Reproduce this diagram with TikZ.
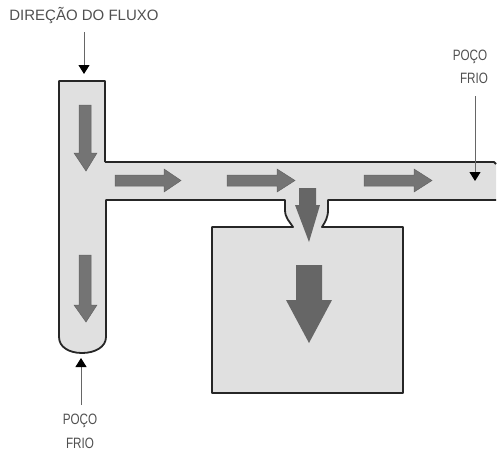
\documentclass[tikz,border=0pt]{standalone}
\usepackage{fontspec}
\setmainfont{Liberation Sans}
\usetikzlibrary{arrows.meta}
\definecolor{fluid}{HTML}{E0E0E0}
\definecolor{flow}{HTML}{747474}
\definecolor{flowdark}{HTML}{666666}
\definecolor{lbl}{HTML}{505050}
\newcommand{\narrowtext}[1]{\scalebox{.78}[1]{#1}}
\tikzset{
  rim/.style={draw=black!85,line width=1.8pt,line join=round},
  flowarrow/.style={fill=flow,draw=flow!85!black,line width=.5pt,line join=miter},
  flowarrowdark/.style={fill=flowdark,draw=none},
  caption/.style={font=\fontsize{15}{17}\selectfont,text=lbl,inner sep=0pt,align=center},
  pointer/.style={draw=black!60,line width=1pt,-{Triangle[length=9pt,width=11pt,color=black]}}
}
\begin{document}
\begin{tikzpicture}[x=1pt,y=-1pt]
\useasboundingbox (0,0) rectangle (497,453);
% fluid body without outline
\fill[fluid] (59,81) -- (105,81) -- (105,162) -- (494,162) -- (496,164) -- (496,200)
  -- (328,200) -- (328,210) .. controls (328,218) and (325,222) .. (322,227)
  -- (403,227) -- (403,393) -- (212,393) -- (212,227) -- (293,227)
  .. controls (290,222) and (285,218) .. (285,210) -- (285,200)
  -- (106,200) -- (106,337) .. controls (106,347) and (95,353) .. (82,353)
  .. controls (69,353) and (59,347) .. (59,337) -- cycle;
% outlines
\draw[rim] (105,162) -- (105,81) -- (59,81) -- (59,337)
  .. controls (59,347) and (69,353) .. (82,353)
  .. controls (95,353) and (106,347) .. (106,337) -- (106,200) -- (285,200) -- (285,210)
  .. controls (285,218) and (290,222) .. (293,227) -- (212,227) -- (212,393) -- (403,393) -- (403,227) -- (322,227)
  .. controls (325,222) and (328,218) .. (328,210) -- (328,200) -- (496,200);
\draw[rim] (105,162) -- (494,162) -- (496,164);
% flow arrows
\path[flowarrow] (79,105) -- (91,105) -- (91,153) -- (97,153) -- (86,171) -- (74,153) -- (79,153) -- cycle;
\path[flowarrow] (79,255) -- (91,255) -- (91,305) -- (97,305) -- (86,322) -- (74,305) -- (79,305) -- cycle;
\path[flowarrow] (115,175) -- (164,175) -- (164,169) -- (181,180.5) -- (164,192) -- (164,186) -- (115,186) -- cycle;
\path[flowarrow] (227,175) -- (277,175) -- (277,169) -- (295,180.5) -- (277,192) -- (277,186) -- (227,186) -- cycle;
\path[flowarrow] (364,175) -- (414,175) -- (414,169) -- (432,180.5) -- (414,192) -- (414,186) -- (364,186) -- cycle;
\path[flowarrowdark] (299,188) -- (316,188) -- (316,205) -- (320,205) -- (309,242) -- (295,205) -- (299,205) -- cycle;
\path[flowarrowdark] (296,265) -- (322,265) -- (322,300) -- (332,300) -- (309,343) -- (286,300) -- (296,300) -- cycle;
% captions
\node[caption] (dir) at (84,16) {DIREÇÃO DO FLUXO};
\node[caption] (pocoa) at (470,57) {\narrowtext{POÇO}};
\node[caption] (frioa) at (474,78) {\narrowtext{FRIO}};
\node[caption] (pocob) at (80,421) {\narrowtext{POÇO}};
\node[caption] (friob) at (80,443) {\narrowtext{FRIO}};
% pointers
\coordinate (dirs) at (84,32);
\coordinate (dire) at (84,74);
\coordinate (as) at (475,96);
\coordinate (ae) at (475,181);
\coordinate (bs) at (81,405);
\coordinate (be) at (81,358);
\draw[pointer] (dirs) -- (dire);
\draw[pointer] (as) -- (ae);
\draw[pointer] (bs) -- (be);
\end{tikzpicture}
\end{document}
